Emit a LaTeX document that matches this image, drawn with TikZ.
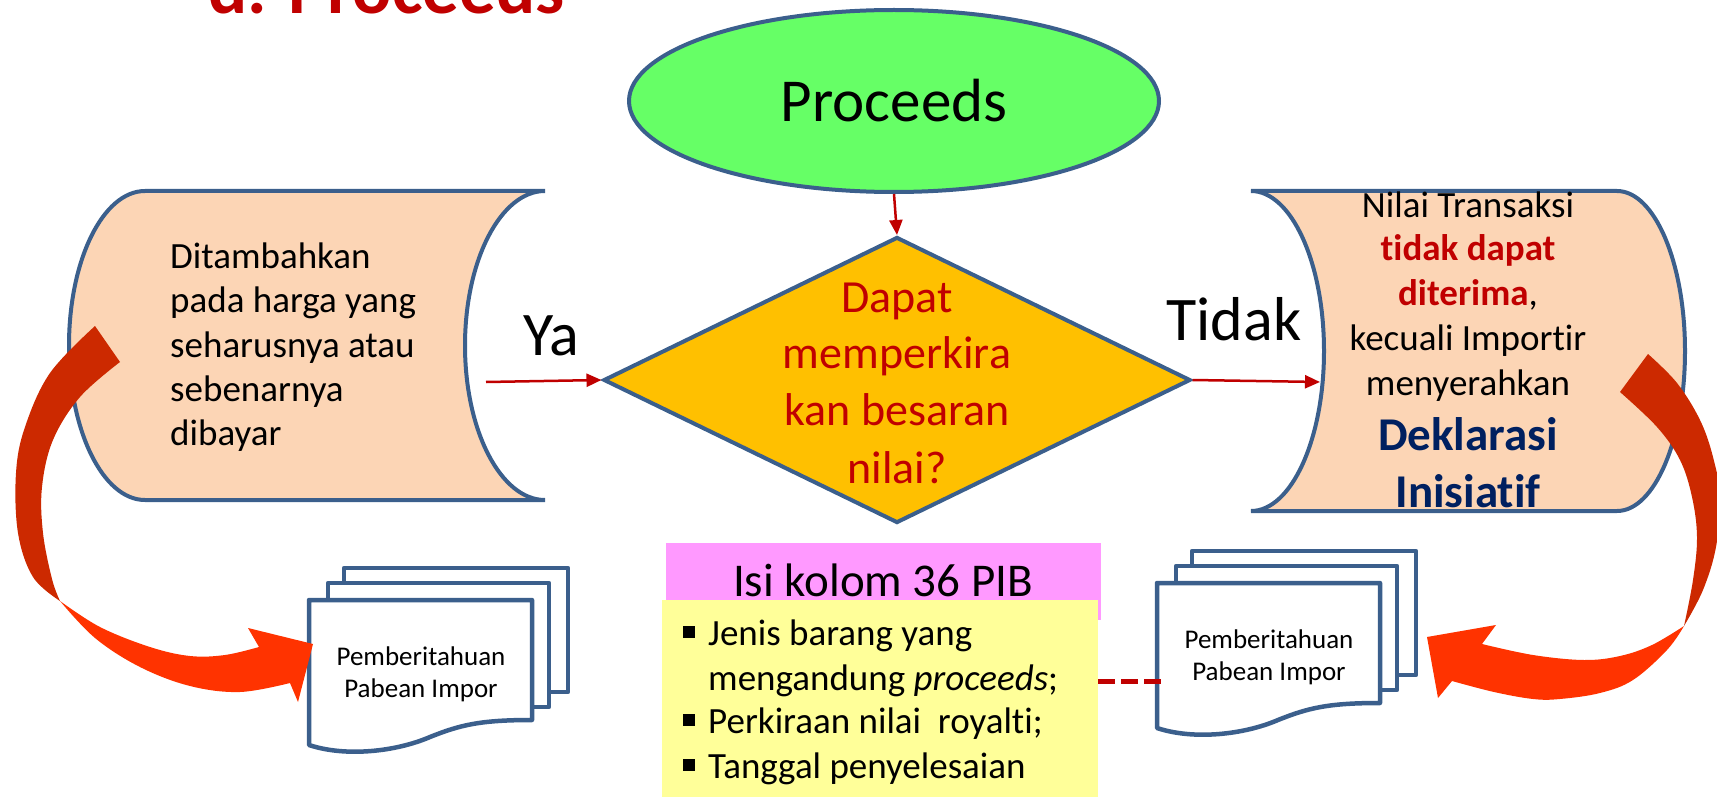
\documentclass[tikz,border=0pt]{standalone}
\usepackage{fontspec}
\setmainfont{Carlito}[Ligatures=NoCommon]
\usetikzlibrary{shapes.geometric,arrows.meta}
\definecolor{bordblue}{HTML}{3B5F8C}
\definecolor{ellgreen}{HTML}{66FF66}
\definecolor{diagold}{HTML}{FFC000}
\definecolor{scrollfill}{HTML}{FCD5B5}
\definecolor{darkred}{HTML}{C00000}
\definecolor{navyblue}{HTML}{002060}
\definecolor{pinkfill}{HTML}{FF99FF}
\definecolor{yellowfill}{HTML}{FFFF99}
\definecolor{arrdarkc}{HTML}{CC2900}
\definecolor{arrbrightc}{HTML}{FF3300}
\newcommand\fsz[2]{\fontsize{#1pt}{#2pt}\selectfont}
\tikzset{
  shapeborder/.style={draw=bordblue, line width=4pt},
  connector/.style={draw=darkred, line width=2.5pt, -{Triangle[length=15pt,width=13pt]}},
  pagesheet/.style={draw=bordblue, line width=4.5pt, fill=white, line join=round},
  txt/.style={inner sep=0pt, anchor=base},
  txtl/.style={inner sep=0pt, anchor=base west},
  bodyfont/.style={font=\fsz{37}{44}},
  docfont/.style={font=\fsz{27}{32}},
  bulletsq/.style={fill=black, minimum size=12pt, inner sep=0pt},
  docstack/.pic={
    \draw[pagesheet] (35,32) rectangle (259,-92);
    \draw[pagesheet] (19,17) rectangle (240,-107);
    \draw[pagesheet] (0,0) -- (223,0) -- (223,-120)
      .. controls (171,-120) and (151,-125) .. (121,-137)
      .. controls (86,-152) and (36,-157) .. (0,-145) -- cycle;
  }
}
\begin{document}
\begin{tikzpicture}[x=1pt,y=1pt]
\useasboundingbox (0,0) rectangle (1717,-797);
\clip (0,0) rectangle (1717,-797);

% title
\node[txtl, font=\bfseries\fsz{73}{80}, text=darkred] (title) at (208,-14) {d. Proceeds};

% left scroll
\draw[shapeborder, fill=scrollfill] (145,-191) -- (545,-191)
  arc[start angle=90, end angle=270, x radius=80pt, y radius=154.5pt]
  -- (145,-500)
  arc[start angle=270, end angle=90, x radius=76pt, y radius=154.5pt] -- cycle;
\node[txtl, bodyfont] (l1) at (170,-268) {Ditambahkan};
\node[txtl, bodyfont] (l2) at (170,-312) {pada harga yang};
\node[txtl, bodyfont] (l3) at (170,-357) {seharusnya atau};
\node[txtl, bodyfont] (l4) at (170,-401) {sebenarnya};
\node[txtl, bodyfont] (l5) at (170,-445) {dibayar};

% right scroll
\draw[shapeborder, fill=scrollfill] (1251,-191) -- (1617,-191)
  arc[start angle=90, end angle=-90, x radius=68pt, y radius=160pt]
  -- (1251,-511)
  arc[start angle=-90, end angle=90, x radius=73pt, y radius=160pt] -- cycle;
\node[txt, bodyfont] (r1) at (1468,-217) {Nilai Transaksi};
\node[txt, bodyfont, text=darkred] (r2) at (1468,-260) {\bfseries tidak dapat};
\node[txt, bodyfont] (r3) at (1468,-305) {\textcolor{darkred}{\bfseries diterima},};
\node[txt, bodyfont] (r4) at (1468,-350) {kecuali Importir};
\node[txt, bodyfont] (r5) at (1468,-395) {menyerahkan};
\node[txt, font=\bfseries\fsz{47}{56}, text=navyblue] (r6) at (1468,-450) {Deklarasi};
\node[txt, font=\bfseries\fsz{47}{56}, text=navyblue] (r7) at (1468,-507) {Inisiatif};

% ellipse
\node[ellipse, shapeborder, fill=ellgreen, minimum width=530pt, minimum height=182pt,
  inner sep=0pt, font=\fsz{61}{70}] (ell) at (894,-101) {Proceeds};

% diamond
\node[diamond, shapeborder, fill=diagold, minimum width=587pt, minimum height=286pt,
  inner sep=0pt] (dia) at (897,-380) {};
\node[txt, font=\fsz{46}{57}, text=darkred] (d1) at (897,-312) {Dapat};
\node[txt, font=\fsz{46}{57}, text=darkred] (d2) at (897,-368) {memperkira};
\node[txt, font=\fsz{46}{57}, text=darkred] (d3) at (897,-425) {kan besaran};
\node[txt, font=\fsz{46}{57}, text=darkred] (d4) at (897,-483) {nilai?};

% labels
\node[txt, font=\fsz{62}{70}] (ya) at (551,-355) {Ya};
\node[txt, font=\fsz{62}{70}] (tidak) at (1234,-340) {Tidak};

% connectors
\coordinate (yastart) at (486,-382);
\coordinate (tidakend) at (1320,-382);
\draw[connector] (ell.south) -- (dia.north);
\draw[connector] (yastart) -- (dia.west);
\draw[connector] (dia.east) -- (tidakend);

% PIB boxes
\node[fill=pinkfill, minimum width=435pt, minimum height=77pt, anchor=north west, inner sep=0pt] (pb) at (666,-543) {};
\node[txt, font=\fsz{47}{56}] (pbt) at (883,-596) {Isi kolom 36 PIB};
\node[fill=yellowfill, minimum width=436pt, minimum height=210pt, anchor=north west, inner sep=0pt] (yb) at (662,-600) {};
\node[bulletsq] (b1) at (689,-632) {};
\node[bulletsq] (b3) at (689,-720) {};
\node[bulletsq] (b4) at (689,-765) {};
\node[txtl, bodyfont] (y1) at (708,-645) {Jenis barang yang};
\node[txtl, bodyfont] (y2) at (708,-690) {mengandung \textit{proceeds};};
\node[txtl, bodyfont] (y3) at (708,-733) {Perkiraan nilai\ \ royalti;};
\node[txtl, bodyfont] (y4) at (708,-778) {Tanggal penyelesaian};

% document stacks
\pic at (309,-600) {docstack};
\pic at (1157,-583) {docstack};
\node[txt, docfont] (dl1) at (421,-665) {Pemberitahuan};
\node[txt, docfont] (dl2) at (421,-697) {Pabean Impor};
\node[txt, docfont] (dr1) at (1269,-648) {Pemberitahuan};
\node[txt, docfont] (dr2) at (1269,-680) {Pabean Impor};

% dashed link
\coordinate (dasha) at (1098,-681);
\coordinate (dashb) at (1163,-681);
\draw[darkred, line width=5pt, dash pattern=on 17pt off 6pt] (dasha) -- (dashb);

% left curved arrow
\fill[arrdarkc] plot[smooth, tension=0.6] coordinates {(95,-326) (50,-373) (25,-427) (16,-473) (18,-533) (33,-577) (60,-601)}
  -- plot[smooth, tension=0.6] coordinates {(60,-601) (52,-579) (43,-533) (42,-487) (53,-440) (80,-397) (120,-362)} -- cycle;
\fill[arrbrightc] plot[smooth, tension=0.6] coordinates {(60,-601) (95,-638) (140,-667) (190,-686) (240,-692) (290,-683)}
  -- (298,-702) -- (313,-644) -- (248,-628) -- (259,-647)
  -- plot[smooth, tension=0.6] coordinates {(259,-647) (225,-655) (190,-656) (150,-647) (100,-627) (60,-601)} -- cycle;

% right curved arrow
\fill[arrdarkc] plot[smooth, tension=0.6] coordinates {(1648,-354) (1677,-383) (1700,-420) (1713,-457) (1720,-497) (1716,-547) (1703,-590) (1684,-626)}
  -- plot[smooth, tension=0.6] coordinates {(1684,-626) (1693,-580) (1697,-537) (1692,-497) (1680,-460) (1657,-427) (1620,-392)} -- cycle;
\fill[arrbrightc] plot[smooth, tension=0.6] coordinates {(1684,-626) (1667,-650) (1633,-680) (1600,-693) (1560,-699) (1533,-699) (1494,-692) (1452,-681)}
  -- (1438,-698) -- (1427,-637) -- (1496,-625) -- (1482,-644)
  -- plot[smooth, tension=0.6] coordinates {(1482,-644) (1533,-655) (1584,-660) (1620,-656) (1652,-645) (1684,-626)} -- cycle;
\end{tikzpicture}
\end{document}
